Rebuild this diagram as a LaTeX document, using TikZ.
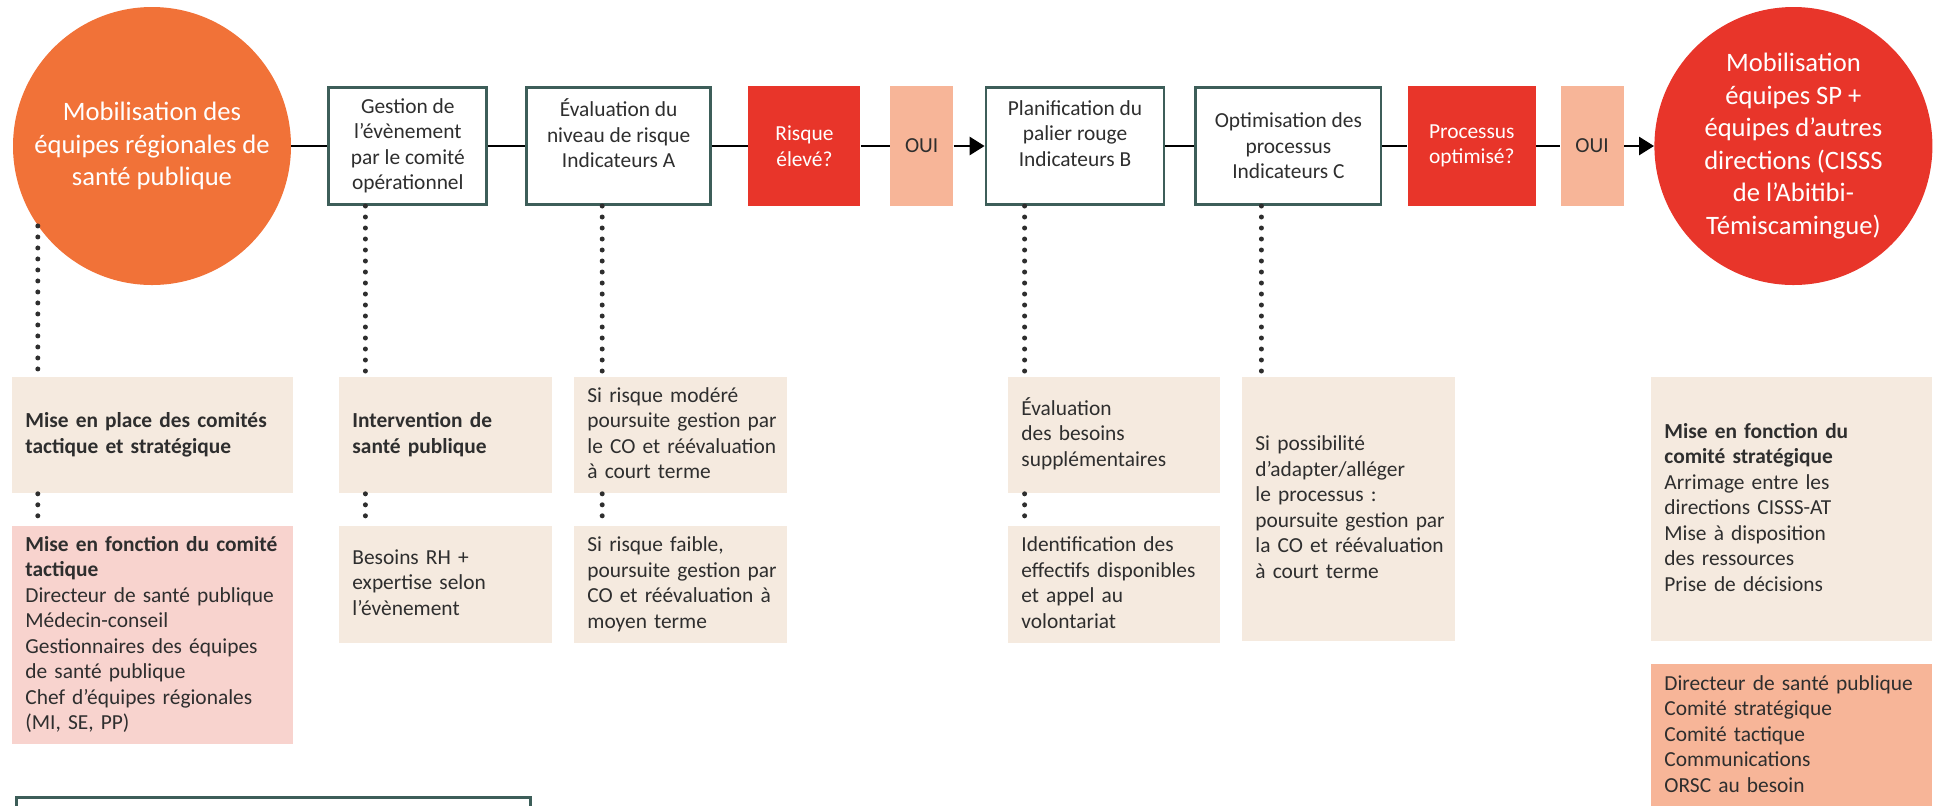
\documentclass[tikz,border=0pt]{standalone}
\usepackage{fontspec}
\setmainfont{Carlito}
\usepackage{tikz}
\usetikzlibrary{positioning}
\usetikzlibrary{arrows.meta}

\definecolor{orangemob}{HTML}{F17238}
\definecolor{rouge}{HTML}{E8352A}
\definecolor{saumon}{HTML}{F7B598}
\definecolor{beige}{HTML}{F5EADF}
\definecolor{rose}{HTML}{F8D3CE}
\definecolor{sarcelle}{HTML}{3D5E59}
\definecolor{texte}{HTML}{2E2E2E}

\newcommand{\lignes}[1]{\begin{tabular}{@{}l@{}}#1\end{tabular}}

\begin{document}
\begin{tikzpicture}[x=1pt,y=1pt,
            font=\fontsize{10.7}{12.75}\selectfont, text=texte,
            rond/.style={circle, fill=#1, text=white, minimum size=139pt, inner sep=0pt, align=center, font=\fontsize{13.3}{16.25}\selectfont},
            etape/.style={draw=sarcelle, line width=1.4pt, fill=white, minimum height=58.6pt, align=center, inner sep=2pt},
            question/.style={fill=rouge, text=white, minimum height=60pt, align=center, inner sep=2pt},
            oui/.style={fill=saumon, minimum height=60pt, minimum width=31.5pt, inner sep=0pt},
            note/.style={fill=#1, anchor=north west, align=left, inner xsep=6.5pt, inner ysep=0pt},
            flux/.style={line width=1.4pt},
            fleche/.style={flux, -{Triangle[length=7.5pt,width=9pt]}},
            pointille/.style={line width=2.5pt, dash pattern=on 0pt off 5.5pt, line cap=round, draw=texte}]
            \useasboundingbox (0,0) rectangle (970.5,-402.5);
            \clip (0,0) rectangle (970.5,-402.5);

            \node(mob) [rond=orangemob] at (76,-73) {Mobilisation des\\équipes régionales de\\santé publique};
            \node(gest) [etape, minimum width=79pt, right=18pt of mob] {Gestion de\\l’évènement\\par le comité\\opérationnel};
            \node(eval) [etape, minimum width=92pt, right=18.5pt of gest] {Évaluation du\\niveau de risque\\Indicateurs A\\~};
            \node(risq) [question, minimum width=56pt, right=18pt of eval] {Risque\\élevé?};
            \node(oui1) [oui, right=14.5pt of risq] {OUI};
            \node(plan) [etape, minimum width=89pt, right=15.5pt of oui1] {Planification du\\palier rouge\\Indicateurs B\\~};
            \node(optim) [etape, minimum width=92.6pt, right=14.5pt of plan] {Optimisation des\\processus\\Indicateurs C};
            \node(proc) [question, minimum width=64pt, right=12.5pt of optim] {Processus\\optimisé?};
            \node(oui2) [oui, right=12pt of proc] {OUI};
            \node(mobsp) [rond=rouge, right=15pt of oui2] {Mobilisation\\équipes SP +\\équipes d’autres\\directions (CISSS\\de l’Abitibi-\\Témiscamingue)};

            \draw[flux] (mob) -- (gest);
            \draw[flux] (gest) -- (eval);
            \draw[flux] (eval) -- (risq);
            \draw[flux] (risq) -- (oui1);
            \draw[fleche] (oui1) -- (plan);
            \draw[flux] (plan) -- (optim);
            \draw[flux] (optim) -- (proc);
            \draw[flux] (proc) -- (oui2);
            \draw[fleche] (oui2) -- (mobsp);

            \node(comites) [note=beige, text width=127.5pt, minimum height=58pt] at (6,-188.5) {\lignes{\textbf{Mise en place des comités}\\\textbf{tactique et stratégique}}};
            \node(tact) [note=rose, text width=127.5pt, minimum height=109pt, below=16pt of comites] {\lignes{\textbf{Mise en fonction du comité}\\\textbf{tactique}\\Directeur de santé publique\\Médecin-conseil\\Gestionnaires des équipes\\de santé publique\\Chef d’équipes régionales\\(MI, SE, PP)}};
            \node(interv) [note=beige, text width=93.5pt, minimum height=58pt] at (169.5,-188.5) {\lignes{\textbf{Intervention de}\\\textbf{santé publique}}};
            \node(besoinsrh) [note=beige, text width=93.5pt, minimum height=58.5pt, below=16pt of interv] {\lignes{Besoins RH +\\expertise selon\\l’évènement}};
            \node(modere) [note=beige, text width=93.5pt, minimum height=58pt] at (287,-188.5) {\lignes{Si risque modéré\\poursuite gestion par\\le CO et réévaluation\\à court terme}};
            \node(faible) [note=beige, text width=93.5pt, minimum height=58.5pt, below=16pt of modere] {\lignes{Si risque faible,\\poursuite gestion par\\CO et réévaluation à\\moyen terme}};
            \node(evbesoins) [note=beige, text width=93pt, minimum height=58pt] at (504,-188.5) {\lignes{Évaluation\\des besoins\\supplémentaires}};
            \node(effectifs) [note=beige, text width=93pt, minimum height=58.5pt, below=16pt of evbesoins] {\lignes{Identification des\\effectifs disponibles\\et appel au\\volontariat}};
            \node(adapter) [note=beige, text width=93.5pt, minimum height=132pt] at (621,-188.5) {\lignes{Si possibilité\\d’adapter/alléger\\le processus :\\poursuite gestion par\\la CO et réévaluation\\à court terme}};
            \node(strat) [note=beige, text width=127.5pt, minimum height=132pt] at (825.5,-188.5) {\lignes{\textbf{Mise en fonction du}\\\textbf{comité stratégique}\\Arrimage entre les\\directions CISSS-AT\\Mise à disposition\\des ressources\\Prise de décisions}};
            \node(direct) [note=saumon, text width=127.5pt, minimum height=72pt, below=11pt of strat] {\lignes{Directeur de santé publique\\Comité stratégique\\Comité tactique\\Communications\\ORSC au besoin}};
            \node(legende) [draw=sarcelle, line width=1.4pt, minimum width=257pt, minimum height=30pt, anchor=north west] at (7.5,-398) {};

            \coordinate (p2) at ([xshift=19pt] gest.south west);
            \coordinate (p3) at ([xshift=38.5pt] eval.south west);
            \coordinate (p4) at ([xshift=20pt] plan.south west);
            \coordinate (p5) at ([xshift=33.5pt] optim.south west);

            \draw[pointille] (mob.215) -- (mob.215 |- comites.north);
            \draw[pointille] (mob.215 |- comites.south) -- (mob.215 |- tact.north);
            \draw[pointille] (p2) -- (p2 |- interv.north);
            \draw[pointille] (p2 |- interv.south) -- (p2 |- besoinsrh.north);
            \draw[pointille] (p3) -- (p3 |- modere.north);
            \draw[pointille] (p3 |- modere.south) -- (p3 |- faible.north);
            \draw[pointille] (p4) -- (p4 |- evbesoins.north);
            \draw[pointille] (p4 |- evbesoins.south) -- (p4 |- effectifs.north);
            \draw[pointille] (p5) -- (p5 |- adapter.north);
        \end{tikzpicture}
\end{document}
